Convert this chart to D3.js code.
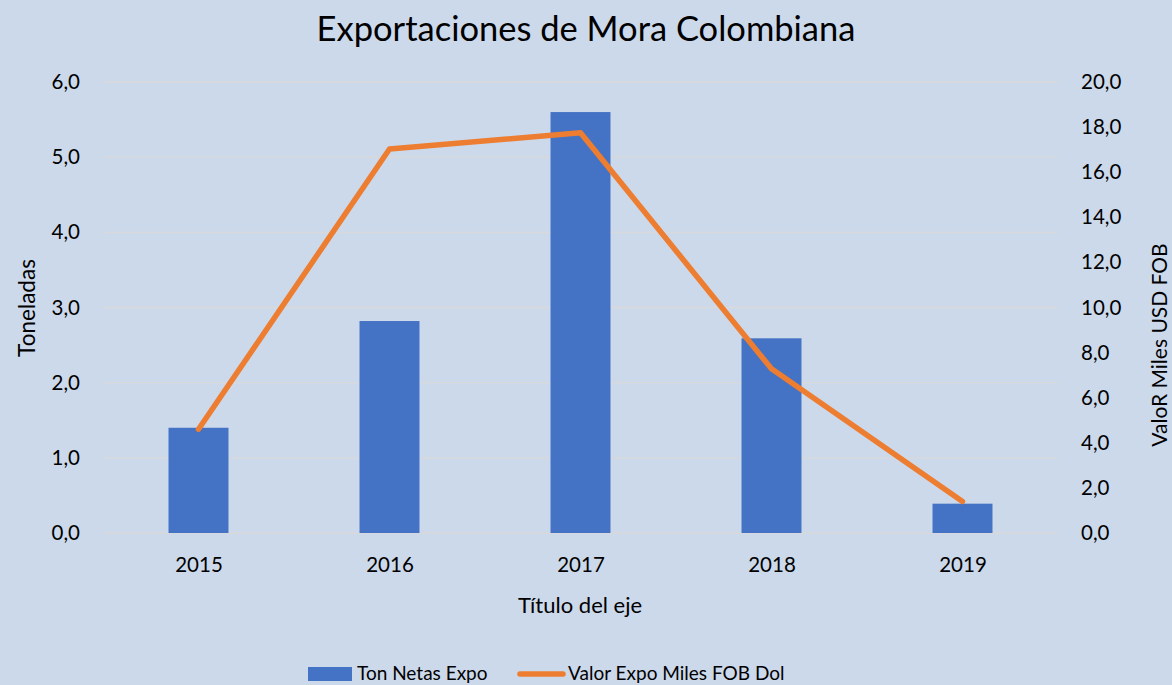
<!DOCTYPE html>
<html>
<head>
	<meta charset="utf-8">
	<title>Exportaciones de Mora Colombiana</title>
	<script src="https://d3js.org/d3.v7.min.js"></script>
	<style>
		html, body {
			margin: 0;
			background: #CCD9EB;
			overflow: hidden;
		}
		text {
			font-family: Lato, "Open Sans", sans-serif;
			fill: #000;
		}
	</style>
</head>
<body>
	<svg id="svg"></svg>
	<script>
		const years = ["2015", "2016", "2017", "2018", "2019"];
		const tons = [1.4, 2.82, 5.6, 2.59, 0.39];
		const valor = [4.6, 17.03, 17.75, 7.28, 1.4];
		const leftTicks = [0, 1, 2, 3, 4, 5, 6];
		const rightTicks = [0, 2, 4, 6, 8, 10, 12, 14, 16, 18, 20];

		const width = 1172, height = 685;
		const plot = { left: 103, right: 1058, top: 82, bottom: 533 };

		const svg = d3.select("#svg")
		.attr("width", width)
		.attr("height", height);

		svg.append("rect")
		.attr("width", width)
		.attr("height", height)
		.attr("fill", "#CCD9EB");

		const locale = d3.formatLocale({ decimal: ",", thousands: ".", grouping: [3], currency: ["$", ""] });
		const fmt = locale.format(".1f");

		const x = d3.scaleBand()
		.domain(years)
		.range([plot.left, plot.right])
		.paddingInner(0.686)
		.paddingOuter(0.343);

		const xc = d3.scalePoint()
		.domain(years)
		.range([plot.left, plot.right])
		.padding(0.5);

		const yL = d3.scaleLinear().domain([0, 6]).range([plot.bottom, plot.top]);
		const yR = d3.scaleLinear().domain([0, 20]).range([plot.bottom, plot.top]);

		// gridlines
		svg.append("g")
		.selectAll("line")
		.data(leftTicks)
		.enter()
		.append("line")
		.attr("x1", plot.left)
		.attr("x2", plot.right)
		.attr("y1", d => yL(d))
		.attr("y2", d => yL(d))
		.attr("stroke", "#D9D9D9")
		.attr("stroke-width", 1.3);

		// left axis
		const axL = svg.append("g")
		.attr("transform", `translate(${plot.left}, 0)`)
		.call(d3.axisLeft(yL).tickValues(leftTicks).tickFormat(fmt).tickSize(0).tickPadding(23));
		axL.select(".domain").remove();
		axL.selectAll("text").style("font-size", "20.5px").style("font-family", "Lato");

		// right axis
		const axR = svg.append("g")
		.attr("transform", `translate(${plot.right}, 0)`)
		.call(d3.axisRight(yR).tickValues(rightTicks).tickFormat(fmt).tickSize(0).tickPadding(23));
		axR.select(".domain").remove();
		axR.selectAll("text").style("font-size", "20.5px").style("font-family", "Lato");

		// bottom axis
		const axB = svg.append("g")
		.attr("transform", `translate(0, ${plot.bottom})`)
		.call(d3.axisBottom(xc).tickSize(0).tickPadding(24));
		axB.select(".domain").remove();
		axB.selectAll("text").style("font-size", "20.5px").style("font-family", "Lato");

		// bars
		svg.append("g")
		.selectAll("rect")
		.data(tons)
		.enter()
		.append("rect")
		.attr("x", (d, i) => x(years[i]))
		.attr("y", d => yL(d))
		.attr("width", x.bandwidth())
		.attr("height", d => yL(0) - yL(d))
		.attr("fill", "#4472C4");

		// line
		const line = d3.line()
		.x((d, i) => xc(years[i]))
		.y(d => yR(d));

		svg.append("path")
		.attr("d", line(valor))
		.attr("fill", "none")
		.attr("stroke", "#ED7D31")
		.attr("stroke-width", 5.5)
		.attr("stroke-linecap", "round")
		.attr("stroke-linejoin", "round");

		// titles
		svg.append("text")
		.attr("x", 586)
		.attr("y", 41)
		.attr("text-anchor", "middle")
		.style("font-size", "34.5px")
		.text("Exportaciones de Mora Colombiana");

		svg.append("text")
		.attr("x", 580)
		.attr("y", 613)
		.attr("text-anchor", "middle")
		.style("font-size", "22px")
		.text("Título del eje");

		svg.append("text")
		.attr("transform", "translate(35, 308) rotate(-90)")
		.attr("text-anchor", "middle")
		.style("font-size", "22.5px")
		.text("Toneladas");

		svg.append("text")
		.attr("transform", "translate(1167, 345) rotate(-90)")
		.attr("text-anchor", "middle")
		.style("font-size", "21px")
		.text("ValoR Miles USD FOB");

		// legend
		const legend = svg.append("g");
		legend.append("rect")
		.attr("x", 308).attr("y", 667)
		.attr("width", 44).attr("height", 14)
		.attr("fill", "#4472C4");
		legend.append("text")
		.attr("x", 357).attr("y", 680)
		.style("font-size", "19px")
		.text("Ton Netas Expo");
		legend.append("line")
		.attr("x1", 520).attr("x2", 563)
		.attr("y1", 674).attr("y2", 674)
		.attr("stroke", "#ED7D31")
		.attr("stroke-width", 5.5)
		.attr("stroke-linecap", "round");
		legend.append("text")
		.attr("x", 568).attr("y", 680)
		.style("font-size", "19px")
		.text("Valor Expo Miles FOB Dol");
	</script>
</body>
</html>
